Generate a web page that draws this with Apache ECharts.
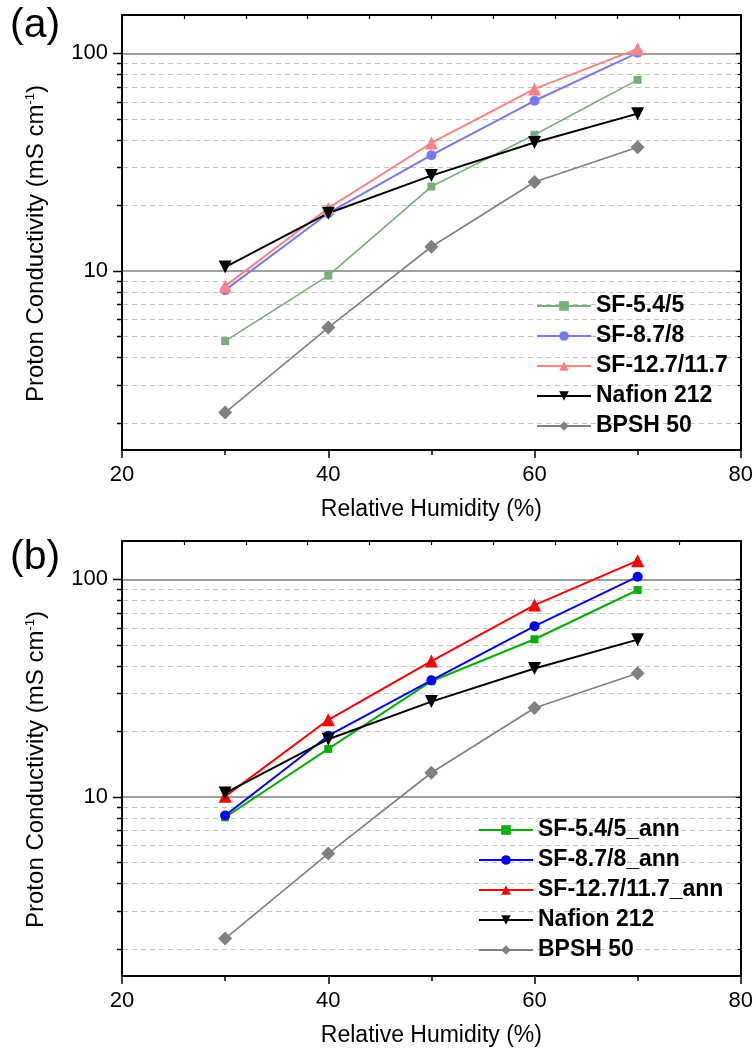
<!DOCTYPE html>
<html>
<head>
<meta charset="utf-8">
<script src="https://cdn.jsdelivr.net/npm/echarts@6/dist/echarts.min.js"></script>
<style>
html,body{margin:0;padding:0;background:#fff;}
#chart{width:756px;height:1053px;}
</style>
</head>
<body>
<div id="chart"></div>
<script>
// ---- data ----
const RH = [30, 40, 50, 60, 70];
const sf54 = [4.75, 9.5, 24.4, 42.2, 75.5];
const sf87 = [8.15, 18.4, 34.0, 60.5, 100.5];
const sf127 = [8.5, 19.4, 38.7, 68.6, 104.8];
const nafion = [10.4, 18.4, 27.4, 38.9, 52.8];
const bpsh = [2.23, 5.48, 12.9, 25.6, 37.0];
const sf54ann = [8.05, 16.6, 34.0, 53.0, 89.3];
const sf87ann = [8.2, 19.1, 34.3, 60.9, 102.8];
const sf127ann = [10.05, 22.6, 42.1, 76.1, 121.8];
const namesA = ['SF-5.4/5', 'SF-8.7/8', 'SF-12.7/11.7', 'Nafion 212', 'BPSH 50'];
const namesB = ['SF-5.4/5_ann', 'SF-8.7/8_ann', 'SF-12.7/11.7_ann', 'Nafion 212', 'BPSH 50'];
const majorY = [10, 100];
const minorY = [2, 3, 4, 5, 6, 7, 8, 9, 20, 30, 40, 50, 60, 70, 80, 90];
const X_MIN = 20, X_MAX = 80, Y_MIN = 1.5, Y_MAX = 150;

const FONT = 'Liberation Sans, Arial, sans-serif';
const chart = echarts.init(document.getElementById('chart'), null, {renderer: 'canvas'});

function pairs(arr) { return RH.map((x, i) => [x, arr[i]]); }

const tickData = majorY.map(v => [X_MIN, v, 1]).concat(minorY.map(v => [X_MIN, v, 0]));

function tickRender(params, api) {
  const v = api.value(1);
  const major = api.value(2) === 1;
  const p0 = api.coord([X_MIN, v]);
  const p1 = api.coord([X_MAX, v]);
  const y = Math.round(p0[1]) + 0.5;
  const ch = [];
  if (!major) {
    ch.push({type: 'line', shape: {x1: p0[0] + 1, y1: y, x2: p1[0] - 1, y2: y},
      style: {stroke: '#c4c4c4', lineWidth: 1, lineDash: [5, 4]}});
  }
  ch.push({type: 'line', shape: {x1: p0[0] - (major ? 9 : 5), y1: y, x2: p0[0], y2: y},
    style: {stroke: '#000', lineWidth: 1.5}});
  ch.push({type: 'line', shape: {x1: p1[0] - (major ? 5 : 3), y1: y, x2: p1[0], y2: y},
    style: {stroke: '#000', lineWidth: 1.2}});
  return {type: 'group', children: ch};
}

function xAxes(gridIndex) {
  return [
    {type: 'value', gridIndex, position: 'bottom', min: X_MIN, max: X_MAX, interval: 20,
     axisLine: {show: true, onZero: false, lineStyle: {color: '#000', width: 2}},
     axisTick: {show: true, length: 8, lineStyle: {color: '#000', width: 1.5}},
     axisLabel: {color: '#000', fontSize: 22, fontFamily: FONT, margin: 14},
     splitLine: {show: false},
     name: 'Relative Humidity (%)', nameLocation: 'middle', nameGap: 48,
     nameTextStyle: {color: '#000', fontSize: 23, fontFamily: FONT}},
    {type: 'value', gridIndex, position: 'bottom', min: X_MIN, max: X_MAX, interval: 10,
     axisLine: {show: false}, axisTick: {show: true, length: 5, lineStyle: {color: '#000', width: 1.5}},
     axisLabel: {show: false}, splitLine: {show: false}},
    {type: 'value', gridIndex, position: 'top', min: X_MIN, max: X_MAX, interval: 6,
     axisLine: {show: true, onZero: false, lineStyle: {color: '#000', width: 2}},
     axisTick: {show: true, inside: true, length: 4, lineStyle: {color: '#000', width: 1.2}},
     axisLabel: {show: false}, splitLine: {show: false}}
  ];
}

function isDecade(v) { const l = Math.log10(v); return Math.abs(l - Math.round(l)) < 1e-6; }

function yAxes(gridIndex) {
  return [
    {type: 'log', logBase: 10, gridIndex, position: 'left', min: Y_MIN, max: Y_MAX,
     axisLine: {show: true, onZero: false, lineStyle: {color: '#000', width: 2}},
     axisTick: {show: false},
     axisLabel: {color: '#000', fontSize: 22, fontFamily: FONT, margin: 14,
       formatter: v => isDecade(v) ? String(Math.round(v)) : ''},
     splitLine: {show: true, lineStyle: {color: '#808080', width: 1.5}},
     name: 'Proton Conductivity (mS cm{sup|-1})', nameLocation: 'middle', nameGap: 74,
     nameTextStyle: {color: '#000', fontSize: 24, fontFamily: FONT, padding: [0, 22, 0, 0],
       rich: {sup: {fontSize: 13, fontFamily: FONT, color: '#000', verticalAlign: 'top', padding: [0, 0, 10, 0]}}}},
    {type: 'log', logBase: 10, gridIndex, position: 'right', min: Y_MIN, max: Y_MAX,
     axisLine: {show: true, onZero: false, lineStyle: {color: '#000', width: 2}},
     axisTick: {show: false}, axisLabel: {show: false}, splitLine: {show: false}}
  ];
}

function lineSeries(name, arr, color, symbol, size, xi, yi, opts) {
  return Object.assign({
    type: 'line', name, data: pairs(arr), xAxisIndex: xi, yAxisIndex: yi,
    symbol, symbolSize: size, showAllSymbol: true, z: 3,
    lineStyle: {color, width: 2}, itemStyle: {color},
    emphasis: {disabled: true}, animation: false
  }, opts || {});
}

const colsA = ['#78ae78', '#7878ff', '#ff8282', '#000000', '#808080'];
const colsB = ['#00b000', '#0000ff', '#ff0000', '#000000', '#808080'];

const option = {
  backgroundColor: '#fff',
  animation: false,
  grid: [
    {left: 122, top: 15, width: 619, height: 435, containLabel: false},
    {left: 122, top: 541, width: 619, height: 435, containLabel: false}
  ],
  xAxis: xAxes(0).concat(xAxes(1)),
  yAxis: yAxes(0).concat(yAxes(1)),
  legend: [
    {data: namesA.map(n => ({name: n})), orient: 'vertical', left: 536, top: 294, padding: 0,
     itemWidth: 54, itemHeight: 12, itemGap: 6, selectedMode: false,
     textStyle: {fontSize: 23, fontWeight: 'bold', fontFamily: FONT, color: '#000', lineHeight: 24}},
    {data: namesB.map(n => ({name: n})), orient: 'vertical', left: 478, top: 818, padding: 0,
     itemWidth: 54, itemHeight: 12, itemGap: 6, selectedMode: false,
     textStyle: {fontSize: 23, fontWeight: 'bold', fontFamily: FONT, color: '#000', lineHeight: 24}}
  ],
  graphic: [
    {type: 'text', left: 10, top: 5, style: {text: '(a)', fontSize: 41, fontFamily: FONT, fill: '#000'}},
    {type: 'text', left: 10, top: 537, style: {text: '(b)', fontSize: 41, fontFamily: FONT, fill: '#000'}}
  ],
  series: [
    {type: 'custom', xAxisIndex: 0, yAxisIndex: 0, data: tickData, renderItem: tickRender, clip: false, z: 1, silent: true},
    {type: 'custom', xAxisIndex: 3, yAxisIndex: 2, data: tickData, renderItem: tickRender, clip: false, z: 1, silent: true},
    lineSeries(namesA[0], sf54, colsA[0], 'rect', 8, 0, 0, {lineStyle: {color: colsA[0], width: 1.6}}),
    lineSeries(namesA[1], sf87, colsA[1], 'circle', 10, 0, 0),
    lineSeries(namesA[2], sf127, colsA[2], 'triangle', 13, 0, 0),
    lineSeries(namesA[3], nafion, colsA[3], 'triangle', 13, 0, 0, {symbolRotate: 180}),
    lineSeries(namesA[4], bpsh, colsA[4], 'diamond', 14, 0, 0, {lineStyle: {color: colsA[4], width: 1.6}}),
    lineSeries(namesB[0], sf54ann, colsB[0], 'rect', 8, 3, 2),
    lineSeries(namesB[1], sf87ann, colsB[1], 'circle', 10, 3, 2),
    lineSeries(namesB[2], sf127ann, colsB[2], 'triangle', 13, 3, 2),
    lineSeries(namesB[3], nafion, colsB[3], 'triangle', 13, 3, 2, {symbolRotate: 180}),
    lineSeries(namesB[4], bpsh, colsB[4], 'diamond', 14, 3, 2, {lineStyle: {color: colsB[4], width: 1.6}})
  ]
};
chart.setOption(option);
</script>
</body>
</html>
